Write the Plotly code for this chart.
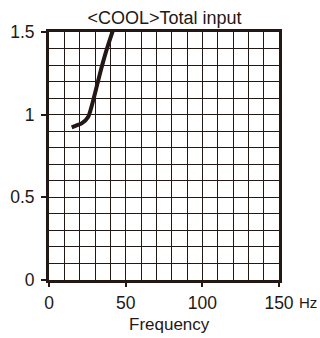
import plotly.graph_objects as go

# curve
freq_hz = [14.8, 18.0, 21.3, 25.6, 28.9, 33.3, 37.6, 41.5]
total_input = [0.923, 0.935, 0.947, 0.988, 1.089, 1.251, 1.393, 1.504]

x_ticks = [0, 50, 100, 150]
y_ticks = [0, 0.5, 1, 1.5]
y_labels = ["0", "0.5", "1", "1.5"]

ink = "#231815"
font = "Liberation Sans, Arial, sans-serif"

fig = go.Figure()
fig.add_trace(go.Scatter(x=freq_hz, y=total_input, mode="lines",
                         line=dict(color=ink, width=4, shape="spline", smoothing=0.6),
                         showlegend=False, hoverinfo="skip"))

fig.update_layout(
    width=320, height=338,
    margin=dict(l=49, r=41, t=32, b=58),
    paper_bgcolor="white", plot_bgcolor="white",
    font=dict(family=font, size=17.5, color=ink),
    title=dict(text="&lt;COOL&gt;Total input", x=0.514, xanchor="center",
               y=0.947, yanchor="middle", font=dict(size=18, color=ink)),
    xaxis=dict(range=[0, 150], tickvals=x_ticks, ticks="outside", ticklen=4,
               tickcolor=ink, tickwidth=1.5, automargin=False,
               ticklabelstandoff=1,
               showgrid=True, gridcolor=ink, gridwidth=1.3,
               minor=dict(dtick=10, tick0=0, showgrid=True, gridcolor=ink, gridwidth=1.3),
               showline=True, linecolor=ink, linewidth=3, mirror=True,
               zeroline=False, fixedrange=True),
    yaxis=dict(range=[0, 1.5], tickvals=y_ticks, ticktext=y_labels,
               ticks="outside", ticklen=5, tickcolor=ink, tickwidth=1.5,
               automargin=False, ticklabelstandoff=3,
               showgrid=True, gridcolor=ink, gridwidth=1.3,
               minor=dict(dtick=0.1, tick0=0, showgrid=True, gridcolor=ink, gridwidth=1.3),
               showline=True, linecolor=ink, linewidth=3, mirror=True,
               zeroline=False, fixedrange=True),
)

# axis title sits a little right of the plot centre in the reference
fig.add_annotation(text="Frequency", xref="paper", yref="paper", x=0.526, y=0,
                   yshift=-44, showarrow=False, xanchor="center", yanchor="middle",
                   font=dict(size=17, color=ink))
fig.add_annotation(text="Hz", xref="paper", yref="paper", x=1.0, y=0,
                   xshift=18, yshift=-22, showarrow=False,
                   xanchor="left", yanchor="middle",
                   font=dict(size=15, color=ink))

# drop the browser's default page margin so the figure sits at 0,0
fig.write_html("out.html", config={"displayModeBar": False},
               post_script="document.body.style.margin='0';")
